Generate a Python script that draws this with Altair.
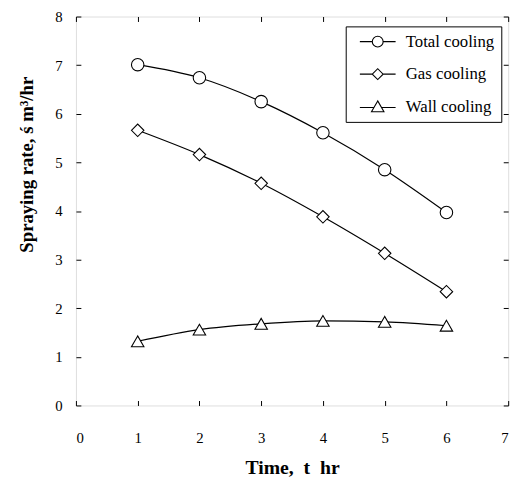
import altair as alt
import pandas as pd

times = [1, 2, 3, 4, 5, 6]
series_names = ["Total cooling", "Gas cooling", "Wall cooling"]
total_cooling = [7.01, 6.74, 6.25, 5.61, 4.85, 3.97]
gas_cooling = [5.66, 5.16, 4.57, 3.88, 3.13, 2.34]
wall_cooling = [1.32, 1.56, 1.68, 1.74, 1.72, 1.64]
x_ticks = [0, 1, 2, 3, 4, 5, 6, 7]
y_ticks = [0, 1, 2, 3, 4, 5, 6, 7, 8]

rows = []
for name, vals in zip(series_names, [total_cooling, gas_cooling, wall_cooling]):
    for t, v in zip(times, vals):
        rows.append({"t": t, "v": v, "series": name})
df = pd.DataFrame(rows)

FONT = "Liberation Serif"
NB = "\u00a0"

xscale = alt.Scale(domain=[0, 7], nice=False, zero=False)
yscale = alt.Scale(domain=[0, 8], nice=False)

axis_common = dict(tickSize=5, offset=-5, domain=False, grid=False, tickColor="black",
                   tickWidth=1, labelFont=FONT, labelFontSize=15, labelColor="black",
                   titleFont=FONT, titleFontWeight="bold", titleColor="black")

x_bottom = alt.Axis(orient="bottom", values=x_ticks, title=f"Time,{NB}{NB}t{NB}{NB}hr",
                    titleFontSize=20, labelPadding=26, titlePadding=12, **axis_common)
y_left = alt.Axis(orient="left", values=y_ticks, title="Spraying rate, ś m³/hr",
                  titleFontSize=19, titleY=150, labelPadding=14, titlePadding=19, **axis_common)
x_top = alt.Axis(orient="top", values=x_ticks, labels=False, title=None, **axis_common)
y_right = alt.Axis(orient="right", values=y_ticks, labels=False, title=None, **axis_common)

line_tail = " M-3.3,0L-1,0 M1,0L3.3,0"
p_circle = "M-1,0A1,1,0,1,0,1,0A1,1,0,1,0,-1,0Z" + line_tail
p_diamond = "M-1,0L0,-1L1,0L0,1Z" + line_tail
p_tri = "M0,-1.05L-1.15,0.95L1.15,0.95Z M-3.3,0.15L-0.69,0.15 M0.69,0.15L3.3,0.15"

legend = alt.Legend(
    title=None, orient="none", legendX=274, legendY=10,
    strokeColor="black", fillColor="white", padding=7,
    symbolSize=121,
    symbolStrokeWidth=1.1, symbolOffset=17, labelOffset=20,
    labelFont=FONT, labelFontSize=17, labelColor="black", rowPadding=15,
)

lines = alt.Chart(df).mark_line(color="black", strokeWidth=1.2, interpolate="monotone").encode(
    x=alt.X("t:Q", scale=xscale, axis=x_bottom),
    y=alt.Y("v:Q", scale=yscale, axis=y_left),
    detail="series:N",
)

points = alt.Chart(df).mark_point(fill="white", stroke="black", strokeWidth=1.1,
                                  size=160, opacity=1, filled=False).encode(
    x=alt.X("t:Q", scale=xscale, axis=x_top),
    y=alt.Y("v:Q", scale=yscale, axis=y_right),
    shape=alt.Shape("series:N",
                    scale=alt.Scale(domain=series_names, range=["circle", "diamond", "triangle-up"]),
                    legend=None),
)

legend_layer = alt.Chart(df).transform_filter("false").mark_point(
    fill="white", stroke="black", strokeWidth=1.1, opacity=1, filled=False).encode(
    x=alt.X("t:Q", scale=xscale, axis=None),
    y=alt.Y("v:Q", scale=yscale, axis=None),
    shape=alt.Shape("series:N",
                    scale=alt.Scale(domain=series_names, range=[p_circle, p_diamond, p_tri]),
                    legend=legend),
)

chart = alt.layer(lines, points, legend_layer).resolve_axis(
    x="independent", y="independent").resolve_scale(shape="independent").properties(
    width=439, height=395,
    autosize=alt.AutoSizeParams(type="none"),
    padding={"left": 69, "top": 5, "right": 12, "bottom": 70},
).configure_view(stroke="black", strokeWidth=2).configure(background="white")

chart.save("out.html", embed_options={"renderer": "svg", "actions": False})
